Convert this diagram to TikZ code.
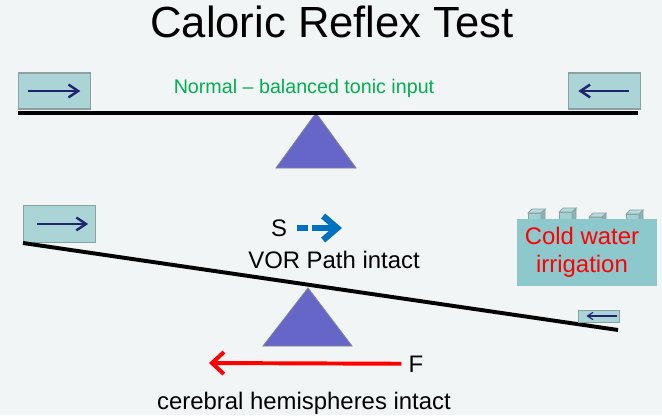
\documentclass[tikz,border=0pt]{standalone}
\usepackage{fontspec}
\setmainfont{Liberation Sans}
\usetikzlibrary{positioning, arrows.meta}
\definecolor{BgColor}{RGB}{242,245,245}
\definecolor{BoxColor}{RGB}{170,212,214}
\definecolor{BoxEdge}{RGB}{140,160,162}
\definecolor{NavyColor}{RGB}{30,36,110}
\definecolor{GreenText}{RGB}{0,176,80}
\definecolor{WedgeColor}{RGB}{102,102,200}
\definecolor{WedgeEdge}{RGB}{125,130,160}
\definecolor{WaterColor}{RGB}{140,200,204}
\definecolor{CubeColor}{RGB}{160,210,212}
\definecolor{SlowBlue}{RGB}{0,112,192}

\begin{document}
\begin{tikzpicture}[x=0.025cm, y=-0.025cm,
    inbox/.style={draw=BoxEdge, fill=BoxColor, line width=0.8pt, inner sep=0pt},
    inarrow/.style={NavyColor, line width=1.7pt, -{Straight Barb[length=2.4mm, width=3.2mm]}},
    beam/.style={line width=2.8pt},
    wedge/.style={fill=WedgeColor, draw=WedgeEdge, line width=0.6pt},
    bigtext/.style={font=\fontsize{17}{20}\selectfont, inner sep=0pt}]
  \fill[BgColor] (0,0) rectangle (662,415);
  \node[font=\fontsize{31}{36}\selectfont, anchor=base, inner sep=0pt] (title) at (332,37) {Caloric Reflex Test};

  \filldraw[wedge] (316,113) -- (356,168) -- (276,168) -- cycle;
  \coordinate (tl) at (18,113);
  \coordinate (tr) at (638,113);
  \draw[beam] (tl) -- (tr);
  \node[inbox, minimum width=1.8cm, minimum height=0.9cm] (lbox) at (54.5,91) {};
  \node[inbox, minimum width=1.78cm, minimum height=0.9cm] (rbox) at (604.5,91) {};
  \draw[inarrow] ([xshift=0.25cm]lbox.west) -- ([xshift=-0.27cm]lbox.east);
  \draw[inarrow] ([xshift=-0.3cm]rbox.east) -- ([xshift=0.25cm]rbox.west);
  \node[font=\fontsize{14}{16}\selectfont, text=GreenText, anchor=base, inner sep=0pt] (normal) at (304,93) {Normal – balanced tonic input};

  \filldraw[wedge] (308,288) -- (352,346) -- (263,346) -- cycle;
  \coordinate (bl) at (23,243);
  \coordinate (br) at (618,330);
  \node[inbox, anchor=south west, minimum width=1.8cm, minimum height=0.925cm] (tbox) at (bl) {};
  \draw[beam] (bl) -- (br);
  \draw[inarrow] ([xshift=0.35cm]tbox.west) -- ([xshift=-0.2cm]tbox.east);
  \node[inbox, line width=0.6pt, minimum width=1.025cm, minimum height=0.3cm] (sbox) at (598.5,316) {};
  \draw[NavyColor, line width=0.8pt, -{Straight Barb[length=1.4mm, width=1.8mm]}] ([xshift=-0.06cm]sbox.east) -- ([xshift=0.22cm]sbox.west);

  \foreach \cx/\cy in {528/213, 559/212, 589/217, 626/214} {
    \filldraw[fill=CubeColor, draw=BoxEdge, line width=0.5pt] (\cx,\cy) rectangle (\cx+13,\cy+10);
    \filldraw[fill=CubeColor!80!white, draw=BoxEdge, line width=0.5pt] (\cx,\cy) -- (\cx+4,\cy-4) -- (\cx+17,\cy-4) -- (\cx+13,\cy) -- cycle;
    \filldraw[fill=CubeColor!85!black, draw=BoxEdge, line width=0.5pt] (\cx+13,\cy) -- (\cx+17,\cy-4) -- (\cx+17,\cy+6) -- (\cx+13,\cy+10) -- cycle;
  }
  \node[fill=WaterColor, minimum width=3.5cm, minimum height=1.675cm, inner sep=0pt] (water) at (587,252.5) {};
  \node[bigtext, font=\fontsize{17}{19.9}\selectfont, text=red, align=center] (cold) at (582,252) {Cold water\\irrigation};

  \node[bigtext, anchor=base] (slow) at (279,236) {S};
  \coordinate (stail) at (297,228);
  \coordinate (stip) at (342,228);
  \draw[SlowBlue, line width=4.5pt, dash pattern=on 8pt off 2.5pt on 40pt off 0pt, -{Straight Barb[length=3.5mm, width=6mm]}] (stail) -- (stip);
  \node[bigtext, anchor=base] (vor) at (334,268) {VOR Path intact};

  \node[bigtext, anchor=base] (fast) at (416,372) {F};
  \coordinate (ftip) at (209,363);
  \draw[red, line width=2.8pt, shorten <=5pt, -{Straight Barb[length=3mm, width=5.5mm]}] (fast.west) -- (ftip);
  \node[bigtext, anchor=base] (cereb) at (304,409) {cerebral hemispheres intact};
\end{tikzpicture}
\end{document}
